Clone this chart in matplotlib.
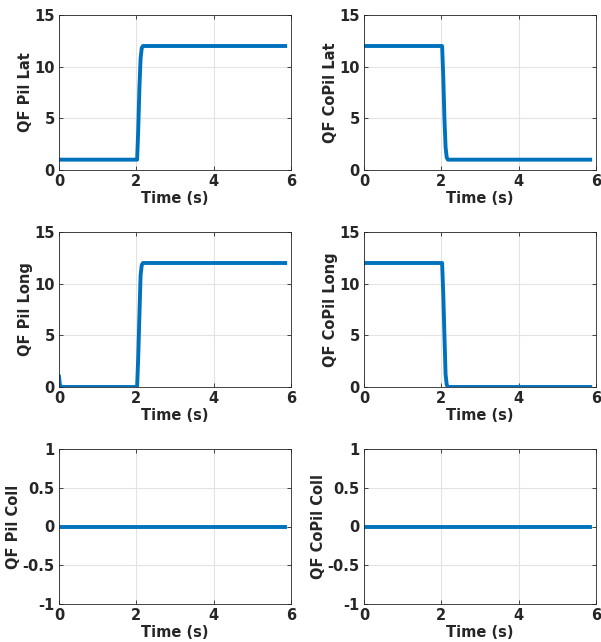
import matplotlib
matplotlib.use("Agg")
import matplotlib.pyplot as plt

# breakpoints (time in s)
t_lat = [0.0, 2.02, 2.05, 2.08, 2.11, 2.14, 2.17, 5.85]
pil_lat = [1, 1, 4, 8, 10.8, 11.8, 12, 12]
copil_lat = [12, 12, 9, 5, 2.2, 1.2, 1, 1]

t_long = [0.0, 0.02, 0.05, 2.02, 2.05, 2.08, 2.11, 2.14, 2.17, 5.85]
pil_long = [1, 0.3, 0, 0, 3, 7, 10.8, 11.8, 12, 12]
t_colong = [0.0, 2.02, 2.05, 2.08, 2.11, 2.14, 2.17, 5.85]
copil_long = [12, 12, 9, 5, 1.2, 0.2, 0, 0]

t_coll = [0.0, 5.85]
pil_coll = [0, 0]
copil_coll = [0, 0]

panels = [
    (t_lat, pil_lat, "QF Pil Lat", (0, 15), [0, 5, 10, 15], ["0", "5", "10", "15"]),
    (t_lat, copil_lat, "QF CoPil Lat", (0, 15), [0, 5, 10, 15], ["0", "5", "10", "15"]),
    (t_long, pil_long, "QF Pil Long", (0, 15), [0, 5, 10, 15], ["0", "5", "10", "15"]),
    (t_colong, copil_long, "QF CoPil Long", (0, 15), [0, 5, 10, 15], ["0", "5", "10", "15"]),
    (t_coll, pil_coll, "QF Pil Coll", (-1, 1), [-1, -0.5, 0, 0.5, 1], ["-1", "-0.5", "0", "0.5", "1"]),
    (t_coll, copil_coll, "QF CoPil Coll", (-1, 1), [-1, -0.5, 0, 0.5, 1], ["-1", "-0.5", "0", "0.5", "1"]),
]

fig = plt.figure(figsize=(6.01, 6.42), dpi=100)
W, H = 601, 642
lefts = [59, 364]
tops = [15, 232, 449]
aw, ah = 232, 155

for i, (t, y, lab, ylim, yt, ytl) in enumerate(panels):
    r, c = divmod(i, 2)
    ax = fig.add_axes([lefts[c] / W, 1 - (tops[r] + ah) / H, aw / W, ah / H])
    ax.plot(t, y, color="#0072BD", lw=2.8, solid_joinstyle="round")
    ax.set_xlim(0, 6)
    ax.set_ylim(*ylim)
    ax.set_xticks([0, 2, 4, 6])
    ax.set_xticklabels(["0", "2", "4", "6"])
    ax.set_yticks(yt)
    ax.set_yticklabels(ytl)
    ax.grid(True, color="#e3e3e3", lw=0.8)
    ax.set_axisbelow(True)
    ax.tick_params(direction="in", top=True, right=True, length=3, width=0.6,
                   labelsize=10.5, colors="#262626", pad=3)
    for lbl in ax.get_xticklabels() + ax.get_yticklabels():
        lbl.set_fontweight("bold")
    for s in ax.spines.values():
        s.set_color("#262626")
        s.set_linewidth(0.6)
    ax.set_xlabel("Time (s)", fontsize=10.5, fontweight="bold", color="#262626", labelpad=1)
    ax.set_ylabel(lab, fontsize=10.5, fontweight="bold", color="#262626", labelpad=1)

fig.savefig("out.png", dpi=100)
